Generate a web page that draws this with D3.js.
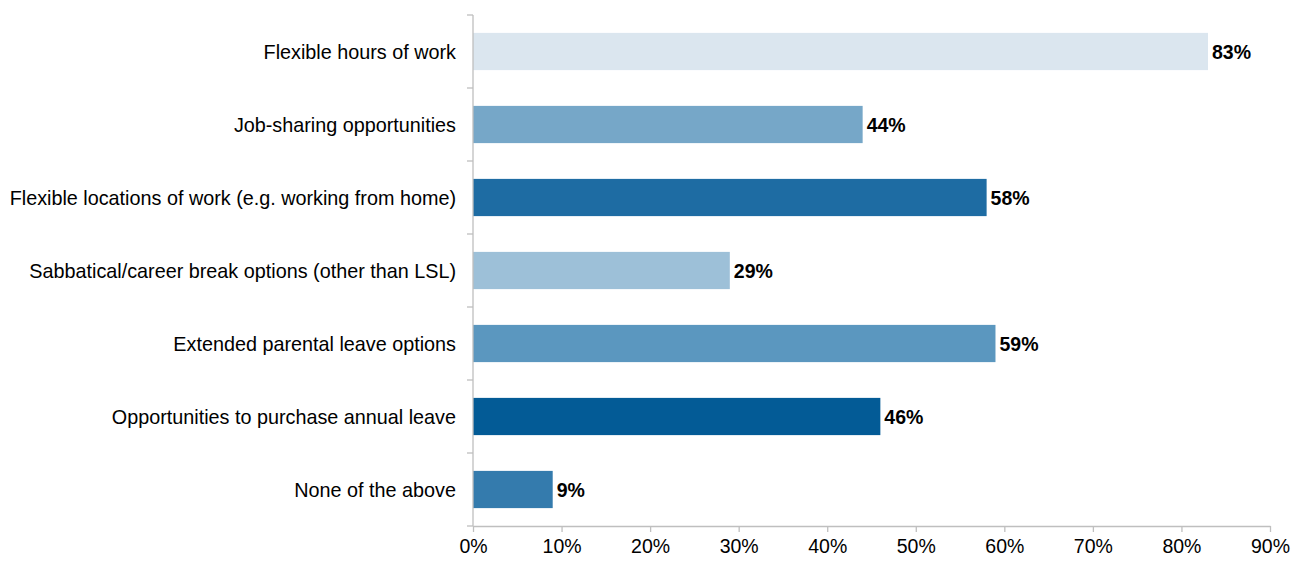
<!DOCTYPE html>
<html>
<head>
<meta charset="utf-8">
<script src="https://cdn.jsdelivr.net/npm/d3@7"></script>
<style>
  body { margin: 0; background: #fff; }
  svg { display: block; font-family: "Liberation Sans", Arial, sans-serif; }
</style>
</head>
<body>
<svg id="chart" width="1301" height="561"></svg>
<script>
const categories = [
  "Flexible hours of work",
  "Job-sharing opportunities",
  "Flexible locations of work (e.g. working from home)",
  "Sabbatical/career break options (other than LSL)",
  "Extended parental leave options",
  "Opportunities to purchase annual leave",
  "None of the above"
];
const values = [83, 44, 58, 29, 59, 46, 9];
const barColors = ["#dbe6ef", "#76a7c8", "#1e6ca3", "#9dc0d8", "#5b97bf", "#035b96", "#347bad"];
const xTicks = [0, 10, 20, 30, 40, 50, 60, 70, 80, 90];

const fontSize = 19.5;
const labelFontSize = 19.8;
const margin = { left: 473, right: 31, top: 15, bottom: 35 };
const width = 1301, height = 561;
const svg = d3.select("#chart");

const x = d3.scaleLinear().domain([0, 90]).range([margin.left, width - margin.right]);
const y = d3.scaleBand().domain(categories).range([margin.top, height - margin.bottom]).paddingInner(0.49).paddingOuter(0.245);
const band = d3.scaleBand().domain(categories).range([margin.top, height - margin.bottom]);

// bars
svg.append("g").selectAll("rect").data(categories).join("rect")
  .attr("x", x(0))
  .attr("y", d => y(d))
  .attr("width", (d, i) => x(values[i]) - x(0))
  .attr("height", y.bandwidth())
  .attr("fill", (d, i) => barColors[i]);

// value labels
svg.append("g").selectAll("text").data(categories).join("text")
  .attr("x", (d, i) => x(values[i]) + 4)
  .attr("y", d => y(d) + y.bandwidth() / 2)
  .attr("dy", "0.36em")
  .attr("font-size", fontSize)
  .attr("font-weight", "bold")
  .attr("fill", "#000")
  .text((d, i) => values[i] + "%");

// category axis
const yAxis = svg.append("g").attr("transform", `translate(${x(0)},0)`);
yAxis.append("line").attr("x1", 0).attr("x2", 0)
  .attr("y1", margin.top).attr("y2", height - margin.bottom)
  .attr("stroke", "#bfbfbf").attr("stroke-width", 1.3);
const yBoundaries = categories.map(c => band(c)).concat([height - margin.bottom]);
yAxis.selectAll("line.tick").data(yBoundaries).join("line").attr("class", "tick")
  .attr("x1", -6).attr("x2", 0).attr("y1", d => d).attr("y2", d => d)
  .attr("stroke", "#bfbfbf").attr("stroke-width", 1.3);
yAxis.selectAll("text").data(categories).join("text")
  .attr("x", -17)
  .attr("y", d => band(d) + band.bandwidth() / 2)
  .attr("dy", "0.36em")
  .attr("text-anchor", "end")
  .attr("font-size", labelFontSize)
  .attr("fill", "#000")
  .text(d => d);

// value axis
const xAxis = svg.append("g").attr("transform", `translate(0,${height - margin.bottom})`)
  .call(d3.axisBottom(x).tickValues(xTicks).tickFormat(d => d + "%").tickSize(6).tickSizeOuter(0));
xAxis.select(".domain").attr("stroke", "#bfbfbf").attr("stroke-width", 1.3);
xAxis.selectAll(".tick line").attr("stroke", "#bfbfbf").attr("stroke-width", 1.3);
xAxis.selectAll(".tick text").attr("font-size", fontSize).attr("fill", "#000")
  .attr("font-family", "'Liberation Sans', Arial, sans-serif").attr("dy", "0.95em").attr("y", 8);
</script>
</body>
</html>
